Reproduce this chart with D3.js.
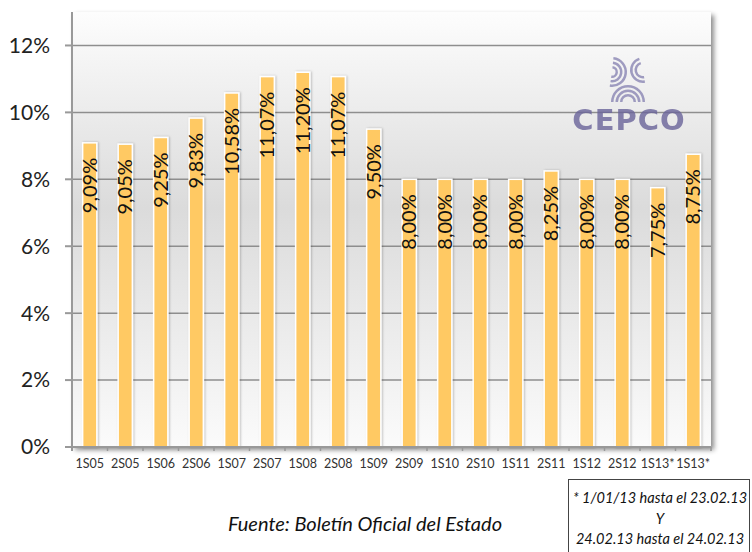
<!DOCTYPE html>
<html>
<head>
<meta charset="utf-8">
<script src="https://cdn.jsdelivr.net/npm/d3@7"></script>
<style>
  body { margin: 0; background: #ffffff; }
  text { font-family: Lato, "Liberation Sans", Arial, sans-serif; }
</style>
</head>
<body>
<script>
// data
var periodos = ["1S05","2S05","1S06","2S06","1S07","2S07","1S08","2S08","1S09","2S09",
                "1S10","2S10","1S11","2S11","1S12","2S12","1S13*","1S13*"];
var tipos = [9.09, 9.05, 9.25, 9.83, 10.58, 11.07, 11.20, 11.07, 9.50, 8.00,
             8.00, 8.00, 8.00, 8.25, 8.00, 8.00, 7.75, 8.75];
var yTicks = [0, 2, 4, 6, 8, 10, 12];
var fuente = "Fuente: Boletín Oficial del Estado";
var nota = ["* 1/01/13 hasta el 23.02.13", "Y", "24.02.13 hasta el 24.02.13"];

var W = 752, H = 552;
var plotL = 72, plotR = 711, plotT = 12, plotB = 447;

var barColour = "#ffc964";
var gridColour = "#8e8e8e";

var svg = d3.select("body").append("svg")
    .attr("width", W)
    .attr("height", H);

var defs = svg.append("defs");

// grey background gradient of the plot area
var grad = defs.append("linearGradient")
    .attr("id", "bg")
    .attr("x1", 0).attr("y1", 0).attr("x2", 0).attr("y2", 1);
grad.append("stop").attr("offset", "0%").attr("stop-color", "#fdfdfd");
grad.append("stop").attr("offset", "45%").attr("stop-color", "#dbdbdb");
grad.append("stop").attr("offset", "100%").attr("stop-color", "#fbfbfb");

var shadow = defs.append("filter").attr("id", "shadow")
    .attr("x", "-5%").attr("y", "-5%").attr("width", "115%").attr("height", "115%");
shadow.append("feDropShadow")
    .attr("dx", 3).attr("dy", 3).attr("stdDeviation", 2.5)
    .attr("flood-color", "#000").attr("flood-opacity", 0.45);

var barShadow = defs.append("filter").attr("id", "barshadow")
    .attr("x", "-30%").attr("y", "-5%").attr("width", "160%").attr("height", "110%");
barShadow.append("feDropShadow")
    .attr("dx", 1).attr("dy", 0).attr("stdDeviation", 1)
    .attr("flood-color", "#000").attr("flood-opacity", 0.25);

// scales
var x = d3.scaleBand()
    .domain(d3.range(periodos.length))
    .range([plotL, plotR])
    .paddingInner(0.6)
    .paddingOuter(0.3);

var y = d3.scaleLinear()
    .domain([0, 13])
    .range([plotB, plotT]);

var fmt = d3.formatLocale({decimal: ",", thousands: ".", grouping: [3], currency: ["", "€"]});
var pct = fmt.format(".2f");

// plot background
svg.append("rect")
    .attr("x", plotL)
    .attr("y", plotT)
    .attr("width", plotR - plotL)
    .attr("height", plotB - plotT)
    .attr("fill", "url(#bg)")
    .attr("filter", "url(#shadow)");

// gridlines
svg.append("g")
    .selectAll("line")
    .data(yTicks.filter(function(d) { return d > 0; }))
    .enter().append("line")
    .attr("x1", plotL)
    .attr("x2", plotR)
    .attr("y1", function(d) { return y(d); })
    .attr("y2", function(d) { return y(d); })
    .attr("stroke", gridColour)
    .attr("stroke-width", 1.5);

// CEPCO logo (rough)
var logo = svg.append("g").attr("opacity", 0.8);
var arc = d3.arc();
[17, 12.5, 8].forEach(function(r) {
  logo.append("path")
      .attr("transform", "translate(628,102)")
      .attr("d", arc({innerRadius: r - 2.5, outerRadius: r, startAngle: -Math.PI / 2, endAngle: Math.PI / 2}))
      .attr("fill", "#8a86b4");
});
[15, 10.5, 6].forEach(function(r) {
  logo.append("path")
      .attr("transform", "translate(612,72)")
      .attr("d", arc({innerRadius: r - 2.5, outerRadius: r, startAngle: 0.1, endAngle: Math.PI * 1.05}))
      .attr("fill", "#8a86b4");
});
[13, 8.5].forEach(function(r) {
  logo.append("path")
      .attr("transform", "translate(643,70)")
      .attr("d", arc({innerRadius: r - 2.5, outerRadius: r, startAngle: Math.PI * 0.95, endAngle: Math.PI * 1.9}))
      .attr("fill", "#8a86b4");
});
logo.append("text")
    .attr("x", 629)
    .attr("y", 130)
    .attr("text-anchor", "middle")
    .attr("font-size", 29)
    .attr("font-weight", "bold")
    .attr("letter-spacing", 1)
    .attr("fill", "#6a649a")
    .style("font-family", "'DejaVu Sans', sans-serif")
    .text("CEPCO");

// bars
svg.append("g")
    .selectAll("rect")
    .data(tipos)
    .enter().append("rect")
    .attr("x", function(d, i) { return x(i); })
    .attr("y", function(d) { return y(d); })
    .attr("width", x.bandwidth())
    .attr("height", function(d) { return y(0) - y(d); })
    .attr("fill", barColour)
    .attr("stroke", "#ffffff")
    .attr("stroke-width", 1.5)
    .attr("filter", "url(#barshadow)");

// value labels, rotated
svg.append("g")
    .selectAll("text")
    .data(tipos)
    .enter().append("text")
    .attr("transform", function(d, i) {
      return "translate(" + (x(i) + x.bandwidth() / 2) + "," + (y(d) + 15) + ") rotate(-90)";
    })
    .attr("text-anchor", "end")
    .attr("dy", "0.36em")
    .attr("font-size", 20)
    .attr("fill", "#111")
    .text(function(d) { return pct(d) + "%"; });

// axes lines
svg.append("line")
    .attr("x1", plotL).attr("x2", plotL)
    .attr("y1", plotT).attr("y2", plotB + 4)
    .attr("stroke", "#999").attr("stroke-width", 2);
svg.append("line")
    .attr("x1", plotL - 7).attr("x2", plotR)
    .attr("y1", plotB).attr("y2", plotB)
    .attr("stroke", "#999").attr("stroke-width", 2);

// y ticks + labels
var yAxis = svg.append("g");
yAxis.selectAll("line")
    .data(yTicks)
    .enter().append("line")
    .attr("x1", plotL - 7).attr("x2", plotL)
    .attr("y1", function(d) { return y(d); })
    .attr("y2", function(d) { return y(d); })
    .attr("stroke", "#999").attr("stroke-width", 2);
yAxis.selectAll("text")
    .data(yTicks)
    .enter().append("text")
    .attr("x", 50)
    .attr("y", function(d) { return y(d); })
    .attr("dy", "0.35em")
    .attr("text-anchor", "end")
    .attr("font-size", 21)
    .attr("fill", "#222")
    .text(function(d) { return d + "%"; });

// x ticks at category boundaries
svg.append("g")
    .selectAll("line")
    .data(d3.range(periodos.length + 1))
    .enter().append("line")
    .attr("x1", function(i) { return plotL + i * x.step(); })
    .attr("x2", function(i) { return plotL + i * x.step(); })
    .attr("y1", plotB).attr("y2", plotB + 4)
    .attr("stroke", "#999").attr("stroke-width", 1.5);

svg.append("g")
    .selectAll("text")
    .data(periodos)
    .enter().append("text")
    .attr("x", function(d, i) { return x(i) + x.bandwidth() / 2; })
    .attr("y", 464)
    .attr("dy", "0.35em")
    .attr("text-anchor", "middle")
    .attr("font-size", 12.5)
    .attr("fill", "#333")
    .text(function(d) { return d; });

// source
svg.append("text")
    .attr("x", 365)
    .attr("y", 524)
    .attr("dy", "0.35em")
    .attr("text-anchor", "middle")
    .attr("font-size", 20)
    .attr("font-style", "italic")
    .attr("fill", "#111")
    .text(fuente);

// note box
svg.append("rect")
    .attr("x", 568.5)
    .attr("y", 479.5)
    .attr("width", 181)
    .attr("height", 90)
    .attr("fill", "#fff")
    .attr("stroke", "#444")
    .attr("stroke-width", 1);

svg.append("g")
    .selectAll("text")
    .data(nota)
    .enter().append("text")
    .attr("x", 660)
    .attr("y", function(d, i) { return 498 + i * 20.5; })
    .attr("dy", "0.35em")
    .attr("text-anchor", "middle")
    .attr("font-size", 14.5)
    .attr("font-style", "italic")
    .attr("fill", "#111")
    .text(function(d) { return d; });
</script>
</body>
</html>
